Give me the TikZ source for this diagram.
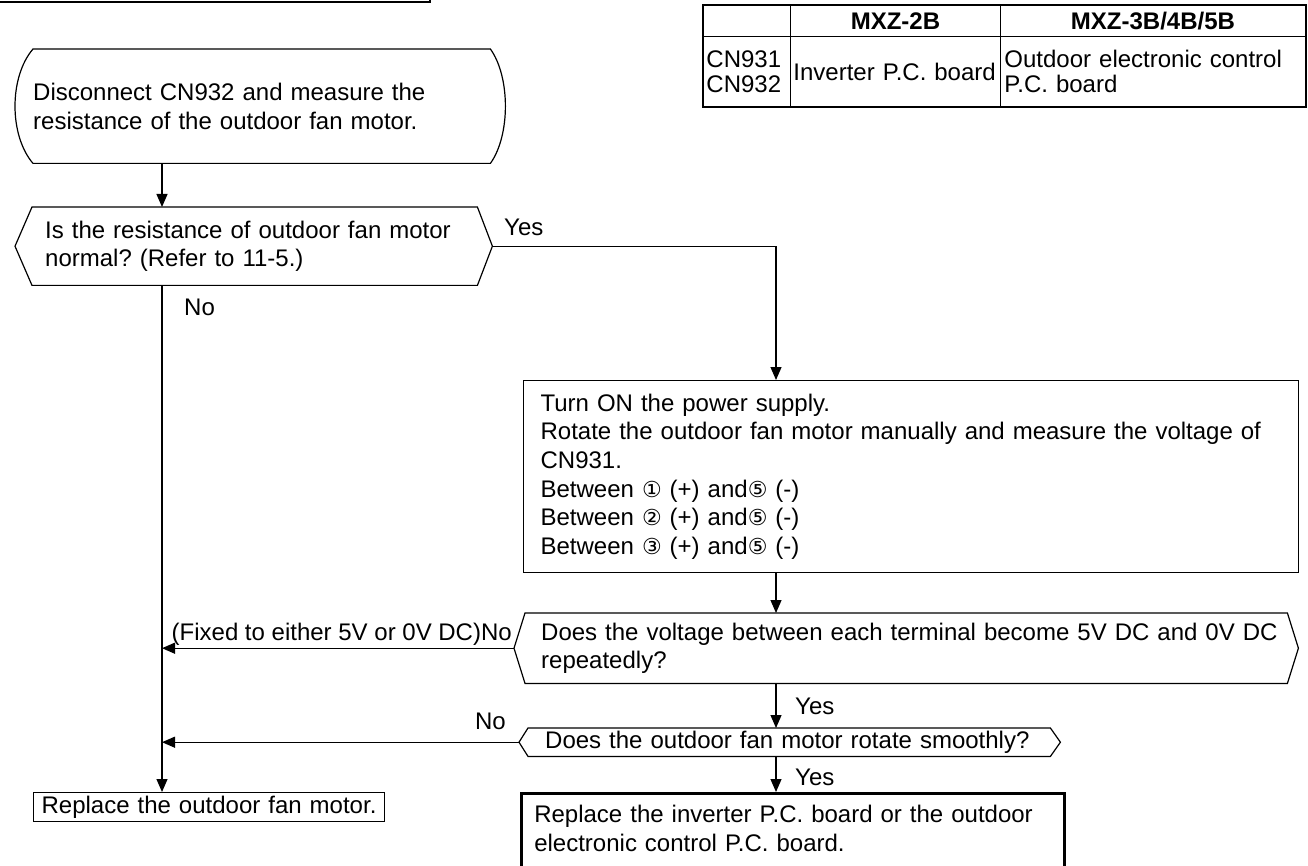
\documentclass[tikz,border=0pt]{standalone}
\usepackage{fontspec}
\setmainfont{Liberation Sans}
\newfontfamily\symfont{DejaVu Sans}
\usetikzlibrary{arrows.meta}
\newcommand{\cdig}[1]{{\symfont\fontsize{22}{22}\selectfont #1}}
\begin{document}
\frenchspacing
\begin{tikzpicture}[x=1pt,y=-1pt,
  txt/.style={font=\fontsize{24}{28.6}\selectfont\frenchspacing, inner sep=0pt},
  ln/.style={line width=1.2pt},
  arr/.style={ln,-{Triangle[length=13pt,width=11pt]}},
  box/.style={txt, draw, ln, anchor=north west, align=left},
  cell/.style={txt, draw, line width=0.9pt, anchor=north west, align=left, font=\fontsize{24}{25}\selectfont\frenchspacing},
  hexnode/.style={txt, anchor=north west, align=left},
  lbl/.style={txt, anchor=base west},
]
\useasboundingbox (0,0) rectangle (1308,866);
\clip (0,0) rectangle (1308,866);
\coordinate (xl) at (162,0);
\coordinate (xa) at (776,0);

% cut-off box at top left
\node[draw, line width=1.6pt, minimum width=450, minimum height=40, anchor=south east, inner sep=0pt] (topbox) at (431,3) {};

% table
\node[cell, minimum width=87, minimum height=31, text width=87] (t11) at (703,5) {};
\node[cell, minimum width=210, minimum height=31, text width=210, align=center] (t12) at (790,5) {\bfseries MXZ-2B};
\node[cell, minimum width=305, minimum height=31, text width=305, align=center] (t13) at (1000,5) {\bfseries MXZ-3B/4B/5B};
\node[cell, minimum width=87, minimum height=70, text width=81, inner xsep=3pt] (t21) at (703,36) {\mbox{CN931}\\\mbox{CN932}};
\node[cell, minimum width=210, minimum height=70, text width=204, inner xsep=3pt] (t22) at (790,36) {\mbox{Inverter P.C. board}};
\node[cell, minimum width=305, minimum height=70, text width=297, inner xsep=4pt] (t23) at (1000,36) {\mbox{Outdoor electronic control}\\P.C. board};
\draw[line width=2pt] (t11.north west) rectangle (t23.south east);

% start terminator
\node[txt, anchor=north west, minimum width=457, minimum height=114, text width=457, align=left] (start) at (33,49) {\mbox{Disconnect CN932 and measure the}\\\mbox{resistance of the outdoor fan motor.}};
\draw[ln] (start.north west) -- (start.north east)
  .. controls +(20,28) and +(20,-28) .. (start.south east)
  -- (start.south west)
  .. controls +(-24,-28) and +(-24,28) .. (start.north west) -- cycle;

% question 1
\node[hexnode, minimum width=445, minimum height=78, text width=419, inner xsep=13pt] (q1) at (32,207) {\mbox{Is the resistance of outdoor fan motor}\\\mbox{normal? (Refer to 11-5.)}};
\coordinate (q1L) at ([xshift=-17pt]q1.west);
\coordinate (q1R) at ([xshift=15pt]q1.east);
\draw[ln] (q1.north west) -- (q1.north east) -- (q1R) -- (q1.south east) -- (q1.south west) -- (q1L) -- cycle;

% process box
\node[box, minimum width=775, minimum height=192, text width=741, inner xsep=17pt] (proc) at (523,380) {Turn ON the power supply.\\\mbox{Rotate the outdoor fan motor manually and measure the voltage of}\\CN931.\\Between \cdig{①} (+) and\cdig{⑤} (-)\\Between \cdig{②} (+) and\cdig{⑤} (-)\\Between \cdig{③} (+) and\cdig{⑤} (-)};

% question 2
\node[hexnode, minimum width=762, minimum height=70, text width=730, inner xsep=16pt] (q2) at (525,613) {\mbox{Does the voltage between each terminal become 5V DC and 0V DC}\\repeatedly?};
\coordinate (q2L) at ([xshift=-11pt]q2.west);
\coordinate (q2R) at ([xshift=11pt]q2.east);
\draw[ln] (q2.north west) -- (q2.north east) -- (q2R) -- (q2.south east) -- (q2.south west) -- (q2L) -- cycle;

% question 3
\node[hexnode, minimum width=522, minimum height=28, text width=488, inner xsep=17pt] (q3) at (528,728) {\mbox{Does the outdoor fan motor rotate smoothly?}};
\coordinate (q3L) at ([xshift=-9pt]q3.west);
\coordinate (q3R) at ([xshift=10pt]q3.east);
\draw[ln] (q3.north west) -- (q3.north east) -- (q3R) -- (q3.south east) -- (q3.south west) -- (q3L) -- cycle;

% end boxes
\node[box, minimum width=351, minimum height=29, text width=335, inner xsep=8pt] (fix) at (33,792) {\mbox{Replace the outdoor fan motor.}};
\node[box, line width=2.6pt, minimum width=543, minimum height=98, text width=517, inner xsep=13pt] (final) at (520,792) {\mbox{Replace the inverter P.C. board or the outdoor}\\\mbox{electronic control P.C. board.}\\\mbox{}};

% connectors
\draw[arr] (start.south -| xl) -- (q1.north -| xl);
\draw[arr] (q1R) -| (proc.north -| xa);
\draw[arr] (q1.south -| xl) -- (fix.north -| xl);
\draw[arr] (proc.south -| xa) -- (q2.north -| xa);
\draw[arr] (q2L) -- (q2L -| xl);
\draw[arr] (q2.south -| xa) -- (q3.north -| xa);
\draw[arr] (q3L) -- (q3L -| xl);
\draw[arr] (q3.south -| xa) -- (final.north -| xa);

% labels
\node[lbl] (yes1) at (504,236) {Yes};
\node[lbl] (no1) at (184,316) {No};
\node[txt, anchor=base east] (no2) at (512,640) {(Fixed to either 5V or 0V DC)No};
\node[lbl] (yes2) at (795,714) {Yes};
\node[txt, anchor=base east] (no3) at (506,729) {No};
\node[lbl] (yes3) at (795,785) {Yes};
\end{tikzpicture}
\end{document}
